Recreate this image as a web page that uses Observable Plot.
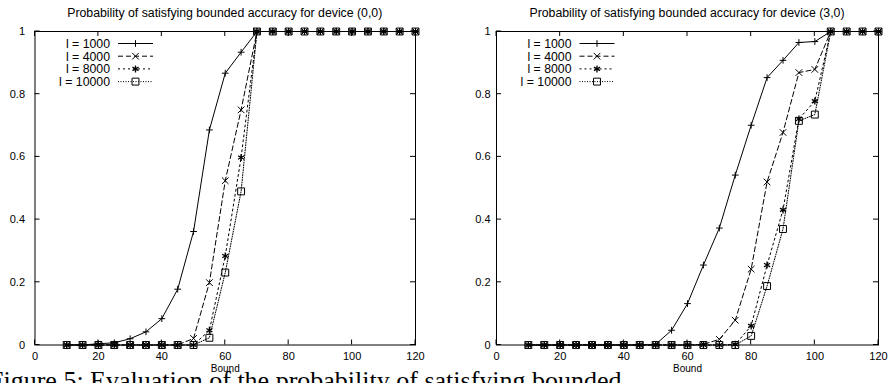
<!DOCTYPE html>
<html><head><meta charset="utf-8">
<script src="https://cdn.jsdelivr.net/npm/d3@7"></script>
<script src="https://cdn.jsdelivr.net/npm/@observablehq/plot@0.6"></script>
<style>
body{margin:0;background:#fff;}
#wrap{position:relative;width:889px;height:383px;overflow:hidden;background:#fff;font-family:"Liberation Sans",Arial,sans-serif;}
.panel{position:absolute;top:0;}
.title{position:absolute;top:6px;font-size:12.3px;line-height:14px;white-space:nowrap;transform:translateX(-50%);color:#000;}
#caption{position:absolute;left:-11px;top:373px;font-family:"Liberation Serif","DejaVu Serif",serif;font-size:26px;line-height:16px;white-space:nowrap;color:#000;}
</style></head><body>
<div id="wrap"></div>
<script>
// ---- data ----
const bounds = [10,15,20,25,30,35,40,45,50,55,60,65,70,75,80,85,90,95,100,105,110,115,120];
const seriesNames = ["l = 1000","l = 4000","l = 8000","l = 10000"];
const xTicks = [0,20,40,60,80,100,120];
const yTicks = [0,0.2,0.4,0.6,0.8,1];
const panelTitles = ["Probability of satisfying bounded accuracy for device (0,0)",
                     "Probability of satisfying bounded accuracy for device (3,0)"];
const xLabel = "Bound";
const captionText = "Figure 5: Evaluation of the probability of satisfying bounded";

// device (0,0)
const left1000  = [0,0,0.004,0.007,0.02,0.042,0.084,0.178,0.362,0.686,0.867,0.934,1,1,1,1,1,1,1,1,1,1,1];
const left4000  = [0,0,0,0,0,0,0,0,0.021,0.199,0.524,0.75,1,1,1,1,1,1,1,1,1,1,1];
const left8000  = [0,0,0,0,0,0,0,0,0,0.047,0.284,0.598,1,1,1,1,1,1,1,1,1,1,1];
const left10000 = [0,0,0,0,0,0,0,0,0,0.023,0.231,0.49,1,1,1,1,1,1,1,1,1,1,1];
// device (3,0)
const right1000  = [0,0,0,0,0,0,0,0,0.002,0.047,0.132,0.255,0.373,0.542,0.701,0.853,0.908,0.965,0.968,1,1,1,1];
const right4000  = [0,0,0,0,0,0,0,0,0,0,0,0.002,0.018,0.079,0.242,0.52,0.678,0.869,0.879,1,1,1,1];
const right8000  = [0,0,0,0,0,0,0,0,0,0,0,0,0,0.002,0.061,0.255,0.431,0.721,0.778,1,1,1,1];
const right10000 = [0,0,0,0,0,0,0,0,0,0,0,0,0,0,0.029,0.188,0.37,0.715,0.735,1,1,1,1];

// ---- styles ----
const dashes = [null, "5,3", "2,3", "1,1.5"];
const symbols = ["plus","times","asterisk","square2"];
const d3Symbols = [d3.symbolPlus, d3.symbolTimes, d3.symbolAsterisk, d3.symbolSquare2];
const radii = [2.3, 3.1, 3.3, 4.4];
const markerWidths = [1, 1, 1.3, 1];

function makePanel(series, cfg) {
  const rows = [];
  series.forEach((vals, s) => bounds.forEach((b, i) => rows.push({bound: b, p: vals[i], s})));
  const marks = [];
  marks.push(Plot.frame({stroke: "black", strokeWidth: 1}));
  // inward ticks on all four sides
  marks.push((index, scales, values, dims) => {
    const g = d3.create("svg:g").attr("stroke", "black").attr("stroke-width", 1);
    const L = 5;
    const top = dims.marginTop, bottom = dims.height - dims.marginBottom;
    const left = dims.marginLeft, right = dims.width - dims.marginRight;
    for (const t of xTicks) {
      const px = scales.x(t);
      g.append("line").attr("x1", px).attr("x2", px).attr("y1", bottom).attr("y2", bottom - L);
      g.append("line").attr("x1", px).attr("x2", px).attr("y1", top).attr("y2", top + L);
    }
    for (const t of yTicks) {
      const py = scales.y(t);
      g.append("line").attr("y1", py).attr("y2", py).attr("x1", left).attr("x2", left + L);
      g.append("line").attr("y1", py).attr("y2", py).attr("x1", right).attr("x2", right - L);
    }
    return g.node();
  });
  marks.push(Plot.axisX({ticks: xTicks, tickSize: 0, tickPadding: 7, tickFormat: d3.format("~g"), label: null, fontSize: 11}));
  marks.push(Plot.axisY({ticks: yTicks, tickSize: 0, tickPadding: cfg.yPad, tickFormat: d3.format("~g"), label: null, fontSize: 11}));
  for (let s = 0; s < series.length; s++) {
    const d = rows.filter(r => r.s === s);
    marks.push(Plot.line(d, {x: "bound", y: "p", stroke: "black", strokeWidth: 1, strokeDasharray: dashes[s]}));
    marks.push(Plot.dot(d, {x: "bound", y: "p", symbol: symbols[s], r: radii[s], stroke: "black", strokeWidth: markerWidths[s], fill: "none"}));
  }
  marks.push(Plot.text([xLabel], {text: d => d, frameAnchor: "bottom", dy: 23.5, fontSize: 10, lineAnchor: "middle"}));
  // legend
  marks.push((index, scales, values, dims) => {
    const g = d3.create("svg:g").attr("font-size", 12.3).attr("font-family", "Liberation Sans, Arial, sans-serif");
    const x0 = dims.marginLeft, y0 = dims.marginTop;
    seriesNames.forEach((name, s) => {
      const y = y0 + 12.5 + s * 12.7;
      g.append("text").attr("x", x0 + 75.5).attr("y", y).attr("dy", "0.35em").attr("text-anchor", "end").attr("fill", "black").text(name);
      const ln = g.append("line").attr("x1", x0 + 83.5).attr("x2", x0 + 118.5).attr("y1", y).attr("y2", y).attr("stroke", "black");
      if (dashes[s]) ln.attr("stroke-dasharray", dashes[s]);
      g.append("path").attr("transform", `translate(${x0 + 101},${y})`)
        .attr("d", d3.symbol(d3Symbols[s], Math.PI * radii[s] * radii[s])())
        .attr("fill", "none").attr("stroke", "black").attr("stroke-width", markerWidths[s]);
    });
    return g.node();
  });
  const chart = Plot.plot({
    width: cfg.width, height: 383,
    marginLeft: cfg.mLeft, marginRight: cfg.mRight, marginTop: 31, marginBottom: 38.5,
    x: {domain: [0, 120], axis: null},
    y: {domain: [0, 1], axis: null},
    style: {fontFamily: "Liberation Sans, Arial, sans-serif", fontSize: "11px", background: "transparent", color: "black"},
    marks
  });
  chart.classList.add("panel");
  chart.style.left = cfg.left + "px";
  return chart;
}

const wrap = document.getElementById("wrap");
const cap = document.createElement("div");
cap.id = "caption"; cap.textContent = captionText;
wrap.appendChild(cap);
const p1 = makePanel([left1000, left4000, left8000, left10000], {left: 0, width: 445, mLeft: 34.5, mRight: 30, yPad: 10});
const p2 = makePanel([right1000, right4000, right8000, right10000], {left: 444, width: 445, mLeft: 52, mRight: 11, yPad: 6});
wrap.appendChild(p1);
wrap.appendChild(p2);
[[panelTitles[0], 224.75], [panelTitles[1], 687]].forEach(([t, cx]) => {
  const div = document.createElement("div");
  div.className = "title"; div.style.left = cx + "px"; div.textContent = t;
  wrap.appendChild(div);
});
</script>
</body></html>
